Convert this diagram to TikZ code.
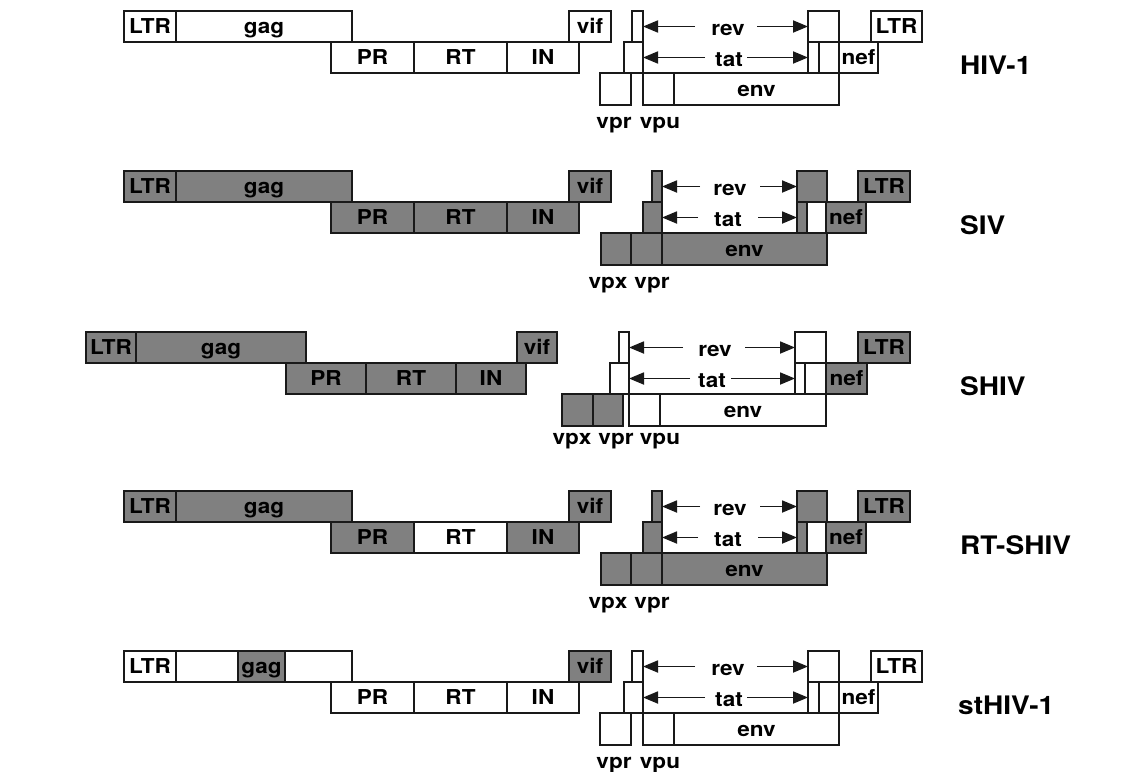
\documentclass[tikz,border=0pt]{standalone}
\usepackage{fontspec}
\setmainfont{TeX Gyre Heros}[FakeStretch=1.1]
\usetikzlibrary{arrows.meta}
\definecolor{gfill}{RGB}{128,128,128}
\definecolor{lc}{RGB}{25,25,25}
\tikzset{
  gene/.style={draw=lc, line width=1.3pt, inner sep=0pt, outer sep=0pt,
    text height=14.6pt, text depth=0pt, font=\fontsize{20.5}{20.5}\selectfont\bfseries},
  wt/.style={fill=white},
  gy/.style={fill=gfill},
  lbl/.style={inner sep=0pt, anchor=base, font=\fontsize{20.5}{20.5}\selectfont\bfseries},
  namelbl/.style={inner sep=0pt, anchor=base west, font=\fontsize{25.5}{25.5}\selectfont\bfseries},
  arr/.style={draw=lc, line width=1.8pt, -{Triangle[length=15pt,width=12pt]}}
}
\newcommand\gbox[7]{\node[gene,#6,minimum width={(#3-#2)*1pt},minimum height={(#5-#4)*1pt}] (#1) at ({(#2+#3)/2},{(#4+#5)/2}) {#7};}
% HIV-1 type row: #1 prefix, #2 top, #3 vif style, #4 gag boxes
\newcommand\hivrow[4]{%
\begin{scope}[shift={(0,#2)}]
\gbox{#1-ltr}{124}{176}{0}{31}{wt}{LTR}
#4
\gbox{#1-pr}{331}{414}{31}{62}{wt}{PR}
\gbox{#1-rt}{414}{507}{31}{62}{wt}{RT}
\gbox{#1-in}{507}{579}{31}{62}{wt}{IN}
\gbox{#1-vif}{569}{611}{0}{31}{#3}{vif}
\gbox{#1-vpr}{600}{631}{62}{94}{wt}{}
\gbox{#1-tat1}{624}{643}{31}{62}{wt}{}
\gbox{#1-rev1}{632}{643}{0}{31}{wt}{}
\gbox{#1-vpu}{643}{674}{62}{94}{wt}{}
\gbox{#1-env}{674}{839}{62}{94}{wt}{env}
\gbox{#1-rev2}{808}{839}{0}{31}{wt}{}
\gbox{#1-tat2}{808}{819}{31}{62}{wt}{}
\gbox{#1-rb}{819}{839}{31}{62}{wt}{}
\gbox{#1-nef}{839}{878}{31}{62}{wt}{nef}
\gbox{#1-ltr2}{871}{922}{0}{31}{wt}{LTR}
\node[lbl] (#1-revl) at (728,24) {rev};
\coordinate (#1-ra) at (695,15.5);
\coordinate (#1-rb2) at (757,15.5);
\draw[arr] (#1-ra) -- (#1-ra -| #1-rev1.east);
\draw[arr] (#1-rb2) -- (#1-rb2 -| #1-rev2.west);
\node[lbl] (#1-tatl) at (729,55) {tat};
\coordinate (#1-ta) at (705,46.5);
\coordinate (#1-tb) at (747,46.5);
\draw[arr] (#1-ta) -- (#1-ta -| #1-tat1.east);
\draw[arr] (#1-tb) -- (#1-tb -| #1-tat2.west);
\node[lbl] (#1-vprl) at (614,117) {vpr};
\node[lbl] (#1-vpul) at (660,117) {vpu};
\end{scope}}
% SIV type row: #1 prefix, #2 top, #3 RT style
\newcommand\sivrow[3]{%
\begin{scope}[shift={(0,#2)}]
\gbox{#1-ltr}{124}{176}{0}{31}{gy}{LTR}
\gbox{#1-gag}{176}{352}{0}{31}{gy}{gag}
\gbox{#1-pr}{331}{414}{31}{62}{gy}{PR}
\gbox{#1-rt}{414}{507}{31}{62}{#3}{RT}
\gbox{#1-in}{507}{579}{31}{62}{gy}{IN}
\gbox{#1-vif}{569}{611}{0}{31}{gy}{vif}
\gbox{#1-vpx}{601}{631}{62}{94}{gy}{}
\gbox{#1-vpr}{631}{662}{62}{94}{gy}{}
\gbox{#1-tat1}{643}{662}{31}{62}{gy}{}
\gbox{#1-rev1}{652}{662}{0}{31}{gy}{}
\gbox{#1-env}{662}{827}{62}{94}{gy}{env}
\gbox{#1-rev2}{797}{827}{0}{31}{gy}{}
\gbox{#1-tat2}{797}{807}{31}{62}{gy}{}
\gbox{#1-rb}{807}{826}{31}{62}{wt}{}
\gbox{#1-nef}{826}{866}{31}{62}{gy}{nef}
\gbox{#1-ltr2}{858}{910}{0}{31}{gy}{LTR}
\node[lbl] (#1-revl) at (730,24) {rev};
\coordinate (#1-ra) at (700,15.5);
\coordinate (#1-rb2) at (760,15.5);
\draw[arr] (#1-ra) -- (#1-ra -| #1-rev1.east);
\draw[arr] (#1-rb2) -- (#1-rb2 -| #1-rev2.west);
\node[lbl] (#1-tatl) at (728,55) {tat};
\coordinate (#1-ta) at (698,46.5);
\coordinate (#1-tb) at (758,46.5);
\draw[arr] (#1-ta) -- (#1-ta -| #1-tat1.east);
\draw[arr] (#1-tb) -- (#1-tb -| #1-tat2.west);
\node[lbl] (#1-vpxl) at (608,117) {vpx};
\node[lbl] (#1-vprl) at (652,117) {vpr};
\end{scope}}
\begin{document}
\begin{tikzpicture}[x=1pt,y=-1pt]
\useasboundingbox[fill=white] (0,0) rectangle (1140,771);
% HIV-1
\hivrow{h}{11}{wt}{\gbox{h-gag}{176}{352}{0}{31}{wt}{gag}}
\node[namelbl] (hname) at (960,74) {HIV-1};
% SIV
\sivrow{s}{171}{gy}
\node[namelbl] (sname) at (960,234) {SIV};
% SHIV
\begin{scope}[shift={(0,332)}]
\gbox{c-ltr}{86}{136}{0}{31}{gy}{LTR}
\gbox{c-gag}{136}{306}{0}{31}{gy}{gag}
\gbox{c-pr}{286}{366}{31}{62}{gy}{PR}
\gbox{c-rt}{366}{456}{31}{62}{gy}{RT}
\gbox{c-in}{456}{526}{31}{62}{gy}{IN}
\gbox{c-vif}{517}{557}{0}{31}{gy}{vif}
\gbox{c-vpx}{562}{593}{62}{94}{gy}{}
\gbox{c-vpr}{593}{623}{62}{94}{gy}{}
\gbox{c-tat1}{610}{629}{31}{62}{wt}{}
\gbox{c-rev1}{619}{629}{0}{31}{wt}{}
\gbox{c-vpu}{629}{660}{62}{94}{wt}{}
\gbox{c-env}{660}{826}{62}{94}{wt}{env}
\gbox{c-rev2}{795}{826}{0}{31}{wt}{}
\gbox{c-tat2}{795}{805}{31}{62}{wt}{}
\gbox{c-rb}{805}{826}{31}{62}{wt}{}
\gbox{c-nef}{826}{867}{31}{62}{gy}{nef}
\gbox{c-ltr2}{858}{910}{0}{31}{gy}{LTR}
\node[lbl] (c-revl) at (715,24) {rev};
\coordinate (c-ra) at (683,15.5);
\coordinate (c-rb2) at (745,15.5);
\draw[arr] (c-ra) -- (c-ra -| c-rev1.east);
\draw[arr] (c-rb2) -- (c-rb2 -| c-rev2.west);
\node[lbl] (c-tatl) at (712,55) {tat};
\coordinate (c-ta) at (690,46.5);
\coordinate (c-tb) at (731,46.5);
\draw[arr] (c-ta) -- (c-ta -| c-tat1.east);
\draw[arr] (c-tb) -- (c-tb -| c-tat2.west);
\node[lbl] (c-vpxl) at (572,112) {vpx};
\node[lbl] (c-vprl) at (616,112) {vpr};
\node[lbl] (c-vpul) at (660,112) {vpu};
\end{scope}
\node[namelbl] (cname) at (960,395) {SHIV};
% RT-SHIV
\sivrow{r}{491}{wt}
\node[namelbl] (rname) at (960,554) {RT-SHIV};
% stHIV-1
\hivrow{t}{651}{gy}{%
\gbox{t-gaga}{176}{238}{0}{31}{wt}{}
\gbox{t-gag}{238}{285}{0}{31}{gy}{gag}
\gbox{t-gagc}{285}{352}{0}{31}{wt}{}}
\node[namelbl] (tname) at (958,714) {stHIV-1};
\end{tikzpicture}
\end{document}
